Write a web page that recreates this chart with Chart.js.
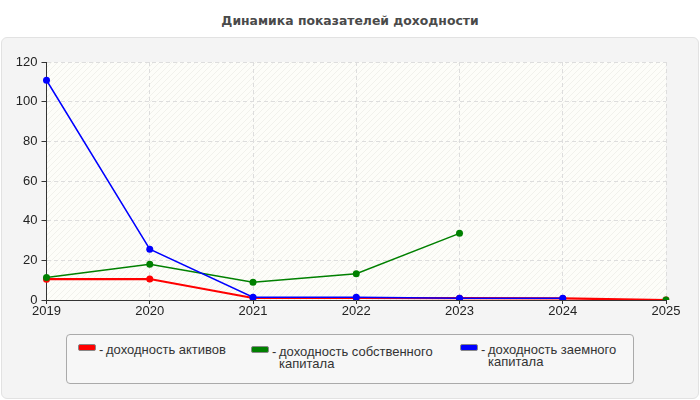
<!DOCTYPE html>
<html>
<head>
<meta charset="utf-8">
<script src="https://cdn.jsdelivr.net/npm/chart.js@4"></script>
<style>
    body { margin: 0; width: 700px; height: 400px; background: #fff; position: relative; overflow: hidden; font-family: "Liberation Sans", Arial, sans-serif; }
    #title { position: absolute; left: 0; top: 13px; width: 700px; text-align: center; font: bold 12.4px "DejaVu Sans", sans-serif; color: #4a4a4a; }
    #panel { position: absolute; left: 1px; top: 37px; width: 696px; height: 360px; background: #f4f4f4; border: 1px solid #e2e2e2; border-radius: 6px; }
    #chartBox { position: absolute; left: 0; top: 0; width: 700px; height: 400px; }
    #legend { position: absolute; left: 66px; top: 334px; width: 566px; height: 48px; border: 1px solid #aaa; border-radius: 4px; background: #f7f7f7; }
    .item { position: absolute; font-size: 13px; color: #333; line-height: 11.5px; }
    .swatch { position: absolute; left: 0; width: 16px; height: 5px; border-radius: 2px; }
    .dash { position: absolute; left: 21px; top: 0; }
    .txt { position: absolute; left: 28px; top: 0; white-space: nowrap; }
</style>
</head>
<body>
<div id="title">Динамика показателей доходности</div>
<div id="panel"></div>
<div id="chartBox"><canvas id="chart" width="700" height="400"></canvas></div>
<div id="legend"></div>

<script>
// Data
let years = ['2019', '2020', '2021', '2022', '2023', '2024', '2025']
let assetsReturn = [10.5, 10.6, 1.0, 1.0, 0.9, 0.8, 0]
let equityReturn = [11.3, 18, 9, 13.2, 33.6, null, 0]
let debtReturn = [110.8, 25.6, 1.4, 1.4, 0.9, 0.9, null]
let seriesNames = ['доходность активов', 'доходность собственного\nкапитала', 'доходность заемного\nкапитала']
let seriesColors = ['#ff0000', '#008000', '#0000ff']
let yTicks = [0, 20, 40, 60, 80, 100, 120]

// hatched background of the plot area
let patternCanvas = document.createElement('canvas')
patternCanvas.width = 6
patternCanvas.height = 6
let pctx = patternCanvas.getContext('2d')
pctx.fillStyle = '#fdfdf9'
pctx.fillRect(0, 0, 6, 6)
pctx.strokeStyle = '#f1f1ec'
pctx.lineWidth = 1
pctx.beginPath()
pctx.moveTo(0, 6)
pctx.lineTo(6, 0)
pctx.moveTo(-3, 3)
pctx.lineTo(3, -3)
pctx.moveTo(3, 9)
pctx.lineTo(9, 3)
pctx.stroke()

let areaBackground = {
    id: 'areaBackground',
    beforeDraw(chart) {
        let ctx = chart.ctx
        let a = chart.chartArea
        ctx.save()
        ctx.fillStyle = ctx.createPattern(patternCanvas, 'repeat')
        ctx.fillRect(a.left, a.top, a.right - a.left, a.bottom - a.top)
        ctx.restore()
    }
}

// order: blue on top, then green, red at the bottom
let makeSet = function(i, values, width, order) {
    return {
        label: seriesNames[i],
        data: values,
        order: order,
        borderColor: seriesColors[i],
        backgroundColor: seriesColors[i],
        borderWidth: width,
        pointRadius: 3.5,
        pointHoverRadius: 3.5,
        pointBorderWidth: 0,
        tension: 0,
        spanGaps: false
    }
}

let ctx = document.getElementById('chart').getContext('2d')
let chart = new Chart(ctx, {
    type: 'line',
    plugins: [areaBackground],
    data: {
        labels: years,
        datasets: [
            makeSet(0, assetsReturn, 2.2, 3),
            makeSet(1, equityReturn, 1.5, 2),
            makeSet(2, debtReturn, 1.5, 1)
        ]
    },
    options: {
        responsive: false,
        animation: false,
        layout: { padding: { left: 0, top: 62, right: 34, bottom: 80 } },
        plugins: { legend: { display: false }, tooltip: { enabled: false } },
        scales: {
            x: {
                offset: false,
                afterFit: (scale) => { scale.height = 20 },
                grid: { color: '#dddddd', tickColor: '#333', tickLength: 4, drawTicks: true },
                border: { color: '#333', width: 1, dash: [4, 3] },
                ticks: { color: '#222', font: { family: 'Liberation Sans', size: 13 }, padding: 0, maxRotation: 0 }
            },
            y: {
                min: 0,
                max: 120,
                afterFit: (scale) => { scale.width = 46.5 },
                afterBuildTicks: (scale) => { scale.ticks = yTicks.map(v => ({ value: v })) },
                grid: { color: '#dddddd', tickColor: '#333', tickLength: 5 },
                border: { color: '#333', width: 1, dash: [4, 3] },
                ticks: { color: '#222', font: { family: 'Liberation Sans', size: 13 }, padding: 4 }
            }
        }
    }
})

// Legend
let legend = document.getElementById('legend')
let itemPos = [[11, 9], [184, 11], [393, 9]]
seriesNames.forEach((name, i) => {
    let item = document.createElement('div')
    item.className = 'item'
    item.style.left = itemPos[i][0] + 'px'
    item.style.top = itemPos[i][1] + 'px'
    let sw = document.createElement('div')
    sw.className = 'swatch'
    sw.style.top = '0px'
    sw.style.background = seriesColors[i]
    sw.style.border = '1px solid #888'
    let d = document.createElement('div')
    d.className = 'dash'
    d.textContent = '-'
    let t = document.createElement('div')
    t.className = 'txt'
    t.innerHTML = name.split('\n').join('<br>')
    item.appendChild(sw)
    item.appendChild(d)
    item.appendChild(t)
    legend.appendChild(item)
})
</script>
</body>
</html>
